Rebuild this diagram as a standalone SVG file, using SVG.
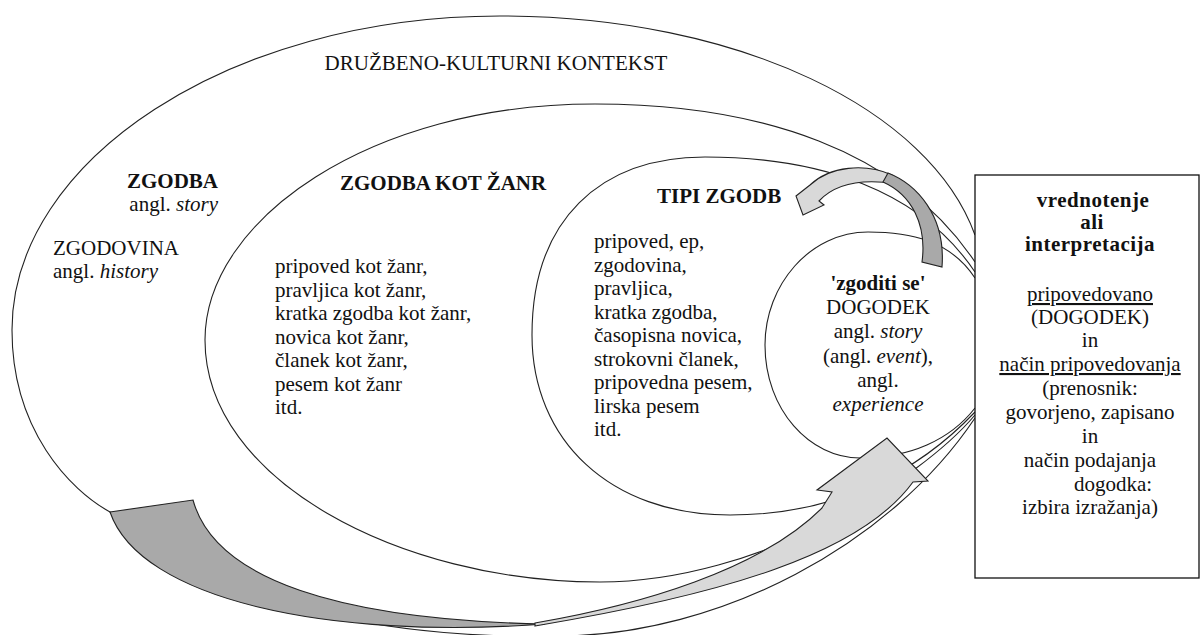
<svg xmlns="http://www.w3.org/2000/svg" width="1202" height="635" viewBox="0 0 1202 635">
<style>
text{font-family:'Liberation Serif','Times New Roman',serif;font-size:21px;fill:#111}
.e{fill:none;stroke:#222;stroke-width:1.1}
.b{font-weight:bold}
.i{font-style:italic}
.m{text-anchor:middle}
.r{text-anchor:end}
.ls{letter-spacing:0.5px}
.dk{fill:#a9a9a9;stroke:#222;stroke-width:1.1}
.lt{fill:#d9d9d9;stroke:#222;stroke-width:1.1}
</style>
<rect width="1202" height="635" fill="#fff"/>
<g id="ellipses">
<path id="e1" class="e" d="M975,235 C930,110 740,16 500,16 C230,16 12,160 12,330 C12,430 70,490 110,512 C200,600 380,640 560,636 C720,635 890,545 975,418"/>
<path id="e2" class="e" d="M975,262 C900,150 760,104 595,104 C370,104 205,220 205,340 C205,480 400,582 600,582 C760,582 920,480 975,415"/>
<path id="e3" class="e" d="M975,272 C920,190 820,157 705,157 C600,157 532,220 532,335 C532,440 610,515 730,515 C840,515 920,470 975,412"/>
<path id="e4" class="e" d="M975,278 C950,240 910,232 868,232 C810,232 765,285 765,345 C765,410 810,458 860,458 C910,458 950,440 975,408"/>
</g>
<g id="connectors">
<path class="dk" d="M110,512 L193,500 C215,580 340,620 545,624 C330,640 140,600 110,512 Z"/>
<path class="lt" d="M535,623 C640,605 760,570 822,508 L832,492 L817,490 L887,438 L928,481 L913,482 C860,555 720,595 535,626 Z"/>
<path class="lt" d="M892,175 C865,163 830,166 810,185 L796,196 L803,215 L824,205 L819,201 C835,184 860,178 897,184 Z"/>
<path class="dk" d="M888,173 C916,184 946,215 942,267 L922,262 C927,225 912,195 883,182 Z"/>
</g>
<g id="outer-label">
<text class="m" x="496" y="70">DRUŽBENO-KULTURNI KONTEKST</text>
</g>
<g id="zgodba">
<text class="b r" x="218" y="188">ZGODBA</text>
<text class="r" x="218" y="211">angl. <tspan class="i">story</tspan></text>
<text x="53" y="255">ZGODOVINA</text>
<text x="53" y="278">angl. <tspan class="i">history</tspan></text>
</g>
<g id="zanr">
<text class="b" x="340" y="190">ZGODBA KOT ŽANR</text>
<text x="275" y="273">pripoved kot žanr,</text>
<text x="275" y="296.5">pravljica kot žanr,</text>
<text x="275" y="320">kratka zgodba kot žanr,</text>
<text x="275" y="343.5">novica kot žanr,</text>
<text x="275" y="367">članek kot žanr,</text>
<text x="275" y="390.5">pesem kot žanr</text>
<text x="275" y="414">itd.</text>
</g>
<g id="tipi">
<text class="b" x="657" y="203">TIPI ZGODB</text>
<text x="594" y="248">pripoved, ep,</text>
<text x="594" y="271.5">zgodovina,</text>
<text x="594" y="295">pravljica,</text>
<text x="594" y="318.5">kratka zgodba,</text>
<text x="594" y="342">časopisna novica,</text>
<text x="594" y="365.5">strokovni članek,</text>
<text x="594" y="389">pripovedna pesem,</text>
<text x="594" y="412.5">lirska pesem</text>
<text x="594" y="436">itd.</text>
</g>
<g id="dogodek">
<text class="b m" x="878" y="290">'zgoditi se'</text>
<text class="m" x="878" y="314">DOGODEK</text>
<text class="m" x="878" y="338">angl. <tspan class="i">story</tspan></text>
<text class="m" x="878" y="362.5">(angl. <tspan class="i">event</tspan>),</text>
<text class="m" x="878" y="387">angl.</text>
<text class="m" x="878" y="411"><tspan class="i">experience</tspan></text>
</g>
<g id="box">
<rect x="975" y="175" width="224" height="403" fill="#fff" stroke="#111" stroke-width="1.3"/>
<text class="b m ls" x="1093" y="207">vrednotenje</text>
<text class="b m ls" x="1092" y="229">ali</text>
<text class="b m ls" x="1090" y="251">interpretacija</text>
<text class="m" x="1090" y="301" text-decoration="underline">pripovedovano</text>
<text class="m" x="1090" y="324">(DOGODEK)</text>
<text class="m" x="1090" y="347">in</text>
<text class="m" x="1090" y="371" text-decoration="underline">način pripovedovanja</text>
<text class="m" x="1090" y="395">(prenosnik:</text>
<text class="m" x="1090" y="419">govorjeno, zapisano</text>
<text class="m" x="1090" y="443">in</text>
<text class="m" x="1090" y="467">način podajanja</text>
<text class="m" x="1113" y="491">dogodka:</text>
<text class="m" x="1090" y="514">izbira izražanja)</text>
</g>
</svg>
